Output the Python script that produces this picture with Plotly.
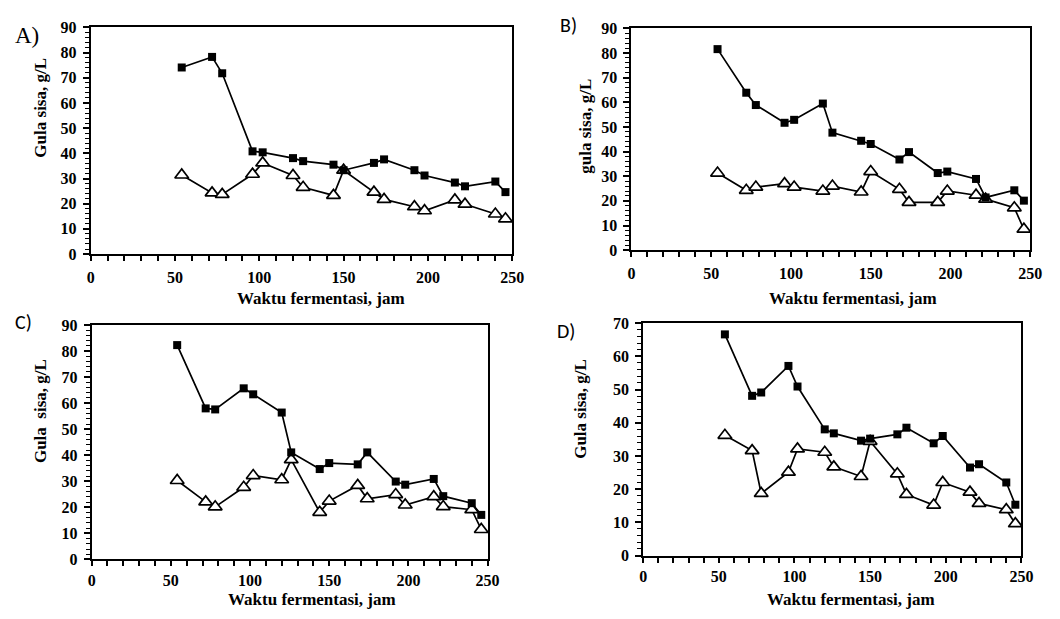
import plotly.graph_objects as go

# Sampling times (hours)
waktu = [54, 72, 78, 96, 102, 120, 126, 144, 150, 168, 174, 192, 198, 216, 222, 240, 246]

# Residual sugar (g/L), square series and triangle series for each panel
a_kotak = [74.1, 78.3, 71.8, 40.8, 40.4, 38.1, 36.9, 35.5, 33.3, 36.2, 37.6, 33.3, 31.2, 28.4, 26.9, 28.8, 24.6]
a_segitiga = [31.4, 24.3, 23.7, 31.7, 36.2, 31.2, 26.5, 23.3, 33.3, 24.6, 21.7, 18.8, 17.2, 21.5, 19.8, 15.9, 14.0]

b_kotak = [81.6, 63.9, 58.9, 51.7, 52.9, 59.5, 47.7, 44.4, 43.1, 36.8, 39.8, 31.3, 31.9, 28.9, 21.4, 24.3, 20.1]
b_segitiga = [31.3, 24.3, 25.6, 27.0, 25.6, 24.0, 26.0, 23.6, 31.9, 24.7, 19.4, 19.4, 24.0, 22.3, 20.7, 17.2, 8.5]

c_kotak = [82.3, 58.0, 57.6, 65.7, 63.4, 56.4, 41.1, 34.7, 37.0, 36.5, 41.1, 29.9, 28.7, 30.9, 24.3, 21.6, 17.1]
c_segitiga = [30.3, 22.1, 20.2, 27.7, 32.2, 30.6, 38.3, 18.1, 22.4, 28.4, 23.3, 24.9, 20.9, 24.1, 20.3, 19.1, 11.5]

d_kotak = [66.6, 48.1, 49.1, 57.1, 50.9, 38.0, 36.8, 34.6, 35.2, 36.5, 38.5, 33.8, 36.0, 26.5, 27.5, 22.0, 15.3]
d_segitiga = [36.2, 31.6, 18.7, 25.1, 32.1, 31.1, 26.7, 23.8, 34.4, 24.6, 18.4, 15.2, 22.0, 19.1, 15.7, 13.8, 9.6]

y_titles = ["Gula sisa, g/L", "gula sisa, g/L", "Gula  sisa, g/L", "Gula sisa, g/L"]
x_title = "Waktu fermentasi, jam"
panel_labels = ["A)", "B)", "C)", "D)"]
y_max = [90, 90, 90, 70]

W, H = 1060, 619
SERIF = "Liberation Serif, Times New Roman, serif"
SANS = "Carlito, Open Sans, sans-serif"


def px(x):
    return x / W


def py(y):
    return 1 - y / H


# Plot boxes in pixels: (left, right, top, bottom); x tick label standoff per panel
boxes = [(88, 516, 20, 253), (637, 1042, 21, 249), (89, 491, 326, 567), (649, 1033, 324, 563)]
x_standoff = [3, 3, 0, 0]
series = [(a_kotak, a_segitiga), (b_kotak, b_segitiga), (c_kotak, c_segitiga), (d_kotak, d_segitiga)]

fig = go.Figure()
layout = dict(
    width=W, height=H, margin=dict(l=0, r=0, t=0, b=0),
    paper_bgcolor="white", plot_bgcolor="white", showlegend=False,
)

tick_font = dict(family=SERIF, size=16, color="black", weight=700)

for i, ((l, r, t, b), (sq, tri)) in enumerate(zip(boxes, series)):
    n = "" if i == 0 else str(i + 1)
    xa, ya = "x" + n, "y" + n
    fig.add_trace(go.Scatter(
        x=waktu, y=tri, xaxis=xa, yaxis=ya, mode="lines+markers", cliponaxis=False,
        line=dict(color="black", width=1.7),
        marker=dict(symbol="triangle-up", size=12, color="white", line=dict(color="black", width=1.7)),
    ))
    fig.add_trace(go.Scatter(
        x=waktu, y=sq, xaxis=xa, yaxis=ya, mode="lines+markers", cliponaxis=False,
        line=dict(color="black", width=1.7),
        marker=dict(symbol="square", size=8, color="black"),
    ))
    layout["xaxis" + n] = dict(
        domain=[px(l), px(r)], anchor=ya, range=[0, 250], dtick=50, tick0=0,
        showline=True, linecolor="black", linewidth=2, mirror=True, showgrid=False, zeroline=False,
        ticks="outside", ticklen=5, tickwidth=1.5, tickcolor="black", ticklabelstandoff=x_standoff[i],
        minor=dict(dtick=10, ticks="outside", ticklen=5, tickwidth=1.5, tickcolor="black", showgrid=False),
        tickfont=tick_font, fixedrange=True,
    )
    layout["yaxis" + n] = dict(
        domain=[py(b), py(t)], anchor=xa, range=[0, y_max[i]], dtick=10, tick0=0,
        showline=True, linecolor="black", linewidth=2, mirror=True, showgrid=False, zeroline=False,
        ticks="outside", ticklen=6, tickwidth=1.5, tickcolor="black", ticklabelstandoff=3,
        minor=dict(dtick=2, ticks="outside", ticklen=4, tickwidth=1.2, tickcolor="black", showgrid=False),
        tickfont=tick_font, fixedrange=True,
    )

title_font = dict(family=SERIF, size=17, color="black", weight=700)
annotations = []
# y-axis titles (x, y centre in pixels)
for text, (cx, cy) in zip(y_titles, [(37, 102), (591, 122), (37, 414), (586, 412)]):
    annotations.append(dict(text="<b>" + text + "</b>", x=px(cx), y=py(cy), xref="paper", yref="paper",
                            showarrow=False, textangle=-90, font=title_font,
                            xanchor="center", yanchor="middle"))
# x-axis titles (x centre, bottom edge in pixels)
for cx, by in [(322, 310), (862, 309), (313, 619), (860, 619)]:
    annotations.append(dict(text="<b>" + x_title + "</b>", x=px(cx), y=py(by), xref="paper", yref="paper",
                            showarrow=False, font=title_font, xanchor="center", yanchor="bottom",
                            borderpad=0))
# panel letters
label_fonts = [dict(family=SERIF, size=23, color="black"),
               dict(family=SANS, size=20, color="black"),
               dict(family=SANS, size=20, color="black"),
               dict(family=SANS, size=20, color="black")]
for text, (cx, cy), f in zip(panel_labels, [(23, 28), (573, 17), (20, 323), (571, 332)], label_fonts):
    annotations.append(dict(text=text, x=px(cx), y=py(cy), xref="paper", yref="paper",
                            showarrow=False, font=f, xanchor="center", yanchor="middle"))

layout["annotations"] = annotations
fig.update_layout(**layout)
fig.write_html("out.html")
